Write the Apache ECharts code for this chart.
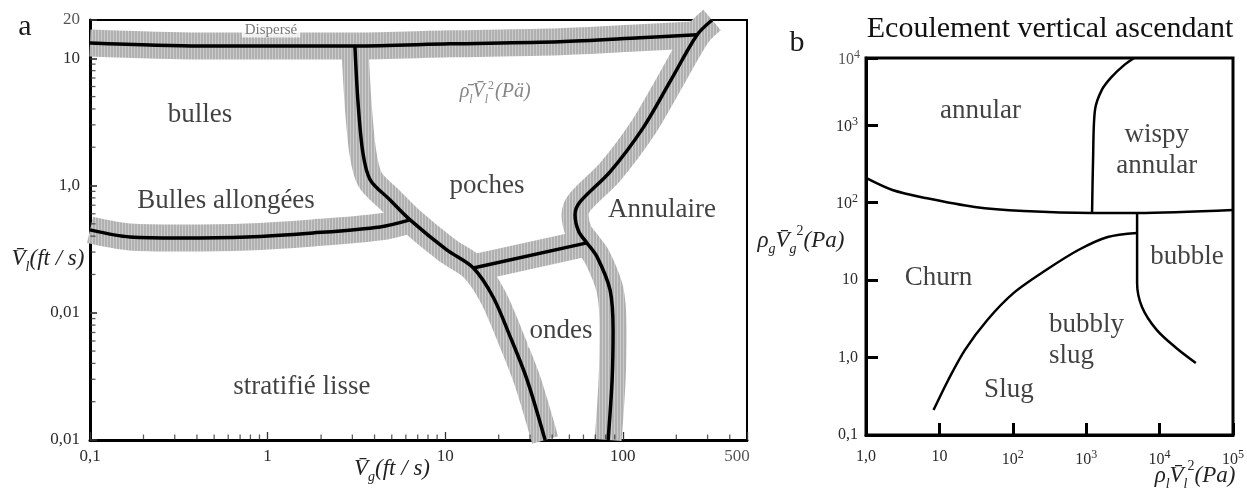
<!DOCTYPE html>
<html>
<head>
<meta charset="utf-8">
<title>Cartes d'écoulement</title>
<script src="https://cdn.jsdelivr.net/npm/echarts@6/dist/echarts.min.js"></script>
<style>
  html, body { margin: 0; padding: 0; background: #fff; }
  #main { width: 1247px; height: 490px; }
</style>
</head>
<body>
<div id="main"></div>
<script>
// ===== (a) Vg (ft/s) en abscisse, Vl (ft/s) en ordonnée =====
var aTopLine      = [[0.1, 13.2], [0.42, 12.5], [3.1, 12.5], [10.6, 13.0], [44, 13.5], [125, 14.5], [262, 15.3]];
var aBullesPoches = [[3.1, 12.5], [3.23, 4.46], [3.44, 1.8], [3.78, 1.11], [4.89, 0.77], [6.34, 0.537],
                     [10.2, 0.312], [14.4, 0.225], [18.6, 0.133], [23.2, 0.065], [28.9, 0.0297], [36.5, 0.01]];
var aAllongees    = [[0.1, 0.448], [0.168, 0.394], [0.321, 0.387], [0.766, 0.394], [1.8, 0.424], [4.3, 0.473], [6.34, 0.537]];
var aPochesOndes  = [[14.4, 0.225], [62.8, 0.354]];
var aAnnulaire    = [[318, 20], [262, 15.3], [184, 6.52], [130, 2.84], [84.7, 1.28], [57.4, 0.743], [53.8, 0.588],
                     [56.6, 0.431], [62.8, 0.354], [71.6, 0.275], [84.7, 0.151], [88.1, 0.0733], [87, 0.0297], [82.6, 0.01]];

var aRegions = [
  { name: 'bulles', value: [0.416, 3.59] },
  { name: 'Bulles allongées', value: [0.583, 0.757] },
  { name: 'poches', value: [17.2, 0.993] },
  { name: 'Annulaire', value: [166, 0.643] },
  { name: 'ondes', value: [44.9, 0.072] },
  { name: 'stratifié lisse', value: [1.56, 0.0261] }
];

// libellés des graduations (indexés par exposant)
var aXTickText = { '-1': '0,1', '0': '1', '1': '10', '2': '100' };
var aYTickText = { '-2': '0,01', '-1': '0,01', '0': '1,0', '1': '10' };
var aXMinor = [0.2, 0.3, 0.4, 0.5, 0.6, 0.7, 0.8, 0.9, 2, 3, 4, 5, 6, 7, 8, 9, 20, 30, 40, 50, 60, 70, 80, 90, 200, 300, 400];
var aYMinor = [0.02, 0.03, 0.04, 0.05, 0.06, 0.07, 0.08, 0.09, 0.2, 0.3, 0.4, 0.5, 0.6, 0.7, 0.8, 0.9, 2, 3, 4, 5, 6, 7, 8, 9];

// ===== (b) Ecoulement vertical ascendant =====
var bAnnular = [[1, 209], [2.29, 146], [6.5, 115], [30.2, 88.3], [140, 78.3], [1202, 73.8], [4937, 73.8], [100000, 80.7]];
var bWispy   = [[1202, 73.8], [1240, 357], [1318, 1581], [1634, 2865], [2222, 4216], [3311, 6026], [4500, 7400]];
var bChurn   = [[8.32, 0.21], [13.2, 0.514], [22.2, 1.25], [45, 3.06], [103, 6.84], [284, 13.5], [782, 24.5], [1964, 36.1], [4937, 40.7]];
var bBubble  = [[4937, 73.8], [4937, 9.2], [5754, 4.51], [9120, 2.28], [16860, 1.33], [31150, 0.851]];

var bRegions = [
  { name: 'annular', value: [36.3, 1535] },
  { name: 'wispy\nannular', value: [9120, 481] },
  { name: 'Churn', value: [9.7, 10.7] },
  { name: 'bubble', value: [23600, 20.0] },
  { name: 'bubbly\nslug', value: [311, 1.69], label: { align: 'left' } },
  { name: 'Slug', value: [88.4, 0.381] }
];

var bXTickText = { '0': '{n|1,0}', '1': '{n|10}', '2': '{n|10}{s|2}', '3': '{n|10}{s|3}', '4': '{n|10}{s|4}', '5': '{n|10}{s|5}' };
var bYTickText = { '-1': '{n|0,1}', '0': '{n|1,0}', '1': '{n|10}', '2': '{n|10}{s|2}', '3': '{n|10}{s|3}' };

var SERIF = '"Liberation Serif", "DejaVu Serif", serif';
var tickRich = {
  n: { fontSize: 16, fontFamily: SERIF, color: '#2a2a2a', verticalAlign: 'bottom' },
  s: { fontSize: 12, fontFamily: SERIF, color: '#2a2a2a', padding: [0, 0, 7, 0], verticalAlign: 'bottom' }
};

// exposant si v est une puissance de 10, sinon null
function expOf(v) {
  var e = Math.log(v) / Math.LN10;
  var r = Math.round(e);
  return Math.abs(e - r) < 1e-6 ? r : null;
}

// texture hachurée verticale des bandes grises
var hatch = document.createElement('canvas');
hatch.width = 3; hatch.height = 3;
var hctx = hatch.getContext('2d');
hctx.fillStyle = '#b0b0b0'; hctx.fillRect(0, 0, 3, 3);
hctx.fillStyle = '#cbcbcb'; hctx.fillRect(2, 0, 1, 3);

function band(data) {
  return { type: 'line', xAxisIndex: 0, yAxisIndex: 0, data: data, symbol: 'none', smooth: 0.3, silent: true, z: 2,
           lineStyle: { color: { image: hatch, repeat: 'repeat' }, width: 27, cap: 'butt', join: 'round' } };
}
function thick(data) {
  return { type: 'line', xAxisIndex: 0, yAxisIndex: 0, data: data, symbol: 'none', smooth: 0.3, silent: true, z: 3,
           lineStyle: { color: '#000', width: 3.5 } };
}
function thin(data) {
  return { type: 'line', xAxisIndex: 1, yAxisIndex: 1, data: data, symbol: 'none', smooth: 0.3, silent: true, z: 3,
           lineStyle: { color: '#000', width: 2.5 } };
}
function regionLabels(data, idx) {
  return { type: 'scatter', xAxisIndex: idx, yAxisIndex: idx, data: data, symbolSize: 0, silent: true, z: 6,
           label: { show: true, position: 'inside', formatter: '{b}', color: '#111', fontFamily: SERIF,
                    fontSize: 27, lineHeight: 31 } };
}

var myChart = echarts.init(document.getElementById('main'));

var aLines = [aTopLine, aBullesPoches, aAllongees, aPochesOndes, aAnnulaire];
var series = [];
aLines.forEach(function (d) { series.push(band(d)); });
aLines.forEach(function (d) { series.push(thick(d)); });
[bAnnular, bWispy, bChurn, bBubble].forEach(function (d) { series.push(thin(d)); });

var aLab = regionLabels(aRegions, 0);
aLab.data = aRegions.map(function (r) {
  if (r.name === 'ondes') return { name: r.name, value: r.value, label: { backgroundColor: '#fff', padding: [0, 2, 2, 2] } };
  return r;
});
series.push(aLab);
series.push(regionLabels(bRegions, 1));

// petits repères secondaires (a)
series.push({ type: 'scatter', xAxisIndex: 0, yAxisIndex: 0, clip: false, silent: true, z: 7,
  data: aXMinor.map(function (v) { return [v, 0.01]; }),
  symbol: 'rect', symbolSize: [1.3, 5], symbolOffset: [0, -3], itemStyle: { color: '#333' } });
series.push({ type: 'scatter', xAxisIndex: 0, yAxisIndex: 0, clip: false, silent: true, z: 7,
  data: aYMinor.map(function (v) { return [0.1, v]; }),
  symbol: 'rect', symbolSize: [5, 1.3], symbolOffset: [3, 0], itemStyle: { color: '#333' } });

// libellés hors graduations : 20, 500, 10^4, Dispersé, annotation
series.push({ type: 'scatter', xAxisIndex: 0, yAxisIndex: 0, clip: false, silent: true, symbolSize: 0, z: 7,
  data: [
    { value: [0.1, 20], label: { formatter: '20', position: 'left', distance: 10 } },
    { value: [500, 0.01], label: { formatter: '500', position: 'bottom', distance: 8, offset: [-10, 0] } },
    { value: [1.045, 16.7], label: { formatter: 'Dispersé', position: 'inside', fontSize: 15, color: '#555',
        backgroundColor: '#fff', padding: [0, 3, 0, 3] } },
    { value: [19.1, 5.35], label: { formatter: '{i|ρ̄}{sb|l}{i|V̄}{sb|l}{sp|2}{i|(Pä)}', position: 'inside',
        rich: {
          i: { fontSize: 20, fontStyle: 'italic', fontFamily: SERIF, color: '#666', verticalAlign: 'bottom', padding: [0, 0, 4, 0] },
          sb: { fontSize: 12, fontStyle: 'italic', fontFamily: SERIF, color: '#666', verticalAlign: 'bottom' },
          sp: { fontSize: 12, fontFamily: SERIF, color: '#666', verticalAlign: 'bottom', padding: [0, 1, 14, 0] }
        } } }
  ],
  label: { show: true, fontFamily: SERIF, fontSize: 17, color: '#2a2a2a' } });
series.push({ type: 'scatter', xAxisIndex: 1, yAxisIndex: 1, clip: false, silent: true, symbolSize: 0, z: 7,
  data: [{ value: [1, 7400], label: { formatter: '{n|10}{s|4}', position: 'left', distance: 6, rich: tickRich } }],
  label: { show: true } });

var nameRich = {
  v: { fontSize: 23, fontStyle: 'italic', fontFamily: SERIF, fill: '#222', verticalAlign: 'top', padding: [7, 0, 5, 0] },
  sb: { fontSize: 14, fontStyle: 'italic', fontFamily: SERIF, fill: '#222', verticalAlign: 'top', padding: [20, 0, 0, 0] },
  sp: { fontSize: 14, fontFamily: SERIF, fill: '#222', verticalAlign: 'top', padding: [2, 0, 0, 0] }
};

option = {
  animation: false,
  backgroundColor: '#fff',
  grid: [
    { left: 90, top: 20, width: 657, height: 420, show: true, borderColor: '#000', borderWidth: 2, backgroundColor: 'transparent' },
    { left: 866, top: 58, width: 375, height: 377, show: true, borderColor: '#000', borderWidth: 3, backgroundColor: 'transparent' }
  ],
  xAxis: [
    { type: 'log', gridIndex: 0, min: 0.1, max: 500, logBase: 10,
      axisLine: { lineStyle: { color: '#000', width: 3 } },
      axisTick: { inside: true, length: 8, lineStyle: { color: '#333', width: 1.3 } },
      axisLabel: { margin: 8, color: '#2a2a2a', fontFamily: SERIF, fontSize: 17,
                   formatter: function (v) { return aXTickText[expOf(v)] || ''; } },
      splitLine: { show: false } },
    { type: 'log', gridIndex: 1, min: 1, max: 100000, logBase: 10,
      axisLine: { lineStyle: { color: '#000', width: 3 } },
      axisTick: { inside: true, length: 12, lineStyle: { color: '#000', width: 3 } },
      axisLabel: { margin: 14, rich: tickRich, showMinLabel: true, showMaxLabel: true,
                   formatter: function (v) { return bXTickText[expOf(v)] || ''; } },
      splitLine: { show: false } }
  ],
  yAxis: [
    { type: 'log', gridIndex: 0, min: 0.01, max: 20, logBase: 10,
      axisLine: { lineStyle: { color: '#000', width: 3 } },
      axisTick: { inside: true, length: 7, lineStyle: { color: '#333', width: 1.6 } },
      axisLabel: { margin: 10, color: '#2a2a2a', fontFamily: SERIF, fontSize: 17,
                   formatter: function (v) { return aYTickText[expOf(v)] || ''; } },
      splitLine: { show: false } },
    { type: 'log', gridIndex: 1, min: 0.1, max: 7400, logBase: 10,
      axisLine: { lineStyle: { color: '#000', width: 3 } },
      axisTick: { inside: true, length: 12, lineStyle: { color: '#000', width: 3 } },
      axisLabel: { margin: 8, rich: tickRich, showMinLabel: true,
                   formatter: function (v) { return bYTickText[expOf(v)] || ''; } },
      splitLine: { show: false } }
  ],
  graphic: [
    { type: 'text', x: 25, y: 27, style: { text: 'a', font: '30px ' + SERIF, fill: '#1b1b1b', align: 'center', verticalAlign: 'middle' } },
    { type: 'text', x: 797, y: 43, style: { text: 'b', font: '30px ' + SERIF, fill: '#1b1b1b', align: 'center', verticalAlign: 'middle' } },
    { type: 'text', x: 1050, y: 29, style: { text: 'Ecoulement vertical ascendant', font: '30px ' + SERIF, fill: '#111', align: 'center', verticalAlign: 'middle' } },
    { type: 'text', x: 48, y: 258, style: { text: '{v|V̄}{sb|l}{v|(ft / s)}', rich: nameRich, align: 'center', verticalAlign: 'middle' } },
    { type: 'text', x: 392, y: 468, style: { text: '{v|V̄}{sb|g}{v|(ft / s)}', rich: nameRich, align: 'center', verticalAlign: 'middle' } },
    { type: 'text', x: 801, y: 240, style: { text: '{v|ρ}{sb|g}{v|V̄}{sb|g}{sp|2}{v|(Pa)}', rich: nameRich, align: 'center', verticalAlign: 'middle' } },
    { type: 'text', x: 1195, y: 475, style: { text: '{v|ρ}{sb|l}{v|V̄}{sb|l}{sp|2}{v|(Pa)}', rich: nameRich, align: 'center', verticalAlign: 'middle' } }
  ],
  series: series
};

myChart.setOption(option);
</script>
</body>
</html>
